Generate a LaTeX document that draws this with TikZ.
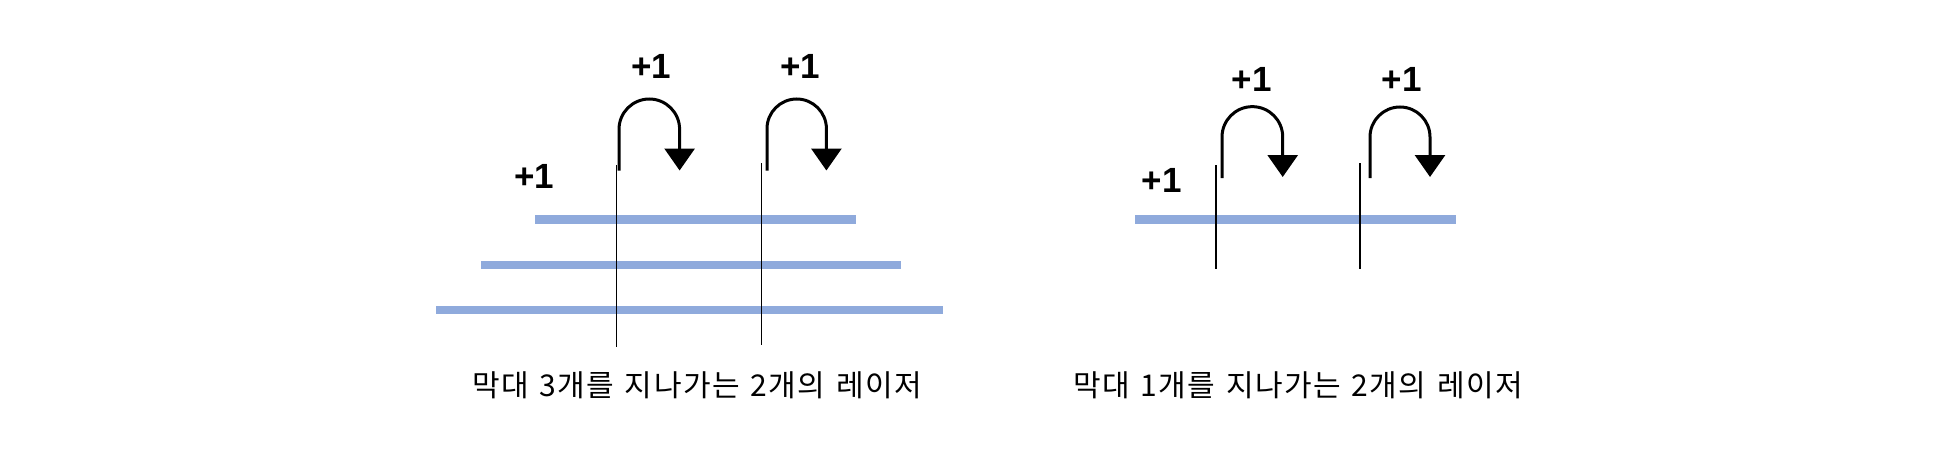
\documentclass[tikz,border=0pt]{standalone}
\usepackage{fontspec}
\setmainfont{Liberation Sans}
\newfontfamily\kr[WordSpace=1.3,LetterSpace=5]{Noto Sans CJK KR}
\usetikzlibrary{arrows.meta}
\definecolor{barblue}{RGB}{143,170,220}
\tikzset{
  bar/.style={draw=barblue, line width=8.7pt},
  laser/.style={draw=black, line width=1.1pt},
  hop/.style={draw=black, line width=3pt, -{Triangle[width=30pt,length=22pt]}},
  plus/.style={font=\fontsize{35}{40}\selectfont\bfseries, inner sep=0pt},
  caption/.style={font=\kr\fontsize{30}{36}\selectfont, inner sep=0pt}
}
\begin{document}
\begin{tikzpicture}[x=1pt,y=1pt]
\useasboundingbox (0,0) rectangle (1937,448);
% left group: bars
\coordinate (b1s) at (535,228.7);   \coordinate (b1e) at (856,228.7);
\coordinate (b2s) at (481.4,183);   \coordinate (b2e) at (901,183);
\coordinate (b3s) at (436,138);     \coordinate (b3e) at (942.5,138);
\draw[bar] (b1s) -- (b1e);
\draw[bar] (b2s) -- (b2e);
\draw[bar] (b3s) -- (b3e);
% left lasers
\coordinate (l1t) at (616.4,283); \coordinate (l1b) at (616.4,101);
\coordinate (l2t) at (761.8,285); \coordinate (l2b) at (761.8,103);
\draw[laser] (l1t) -- (l1b);
\draw[laser] (l2t) -- (l2b);
% left hops
\coordinate (h1s) at (619,277.3);
\draw[hop] (h1s) -- (619,318.7) arc[start angle=180,end angle=0,radius=30.3] -- (679.6,277.5);
\coordinate (h2s) at (767,277.3);
\draw[hop] (h2s) -- (767,319.3) arc[start angle=180,end angle=0,radius=29.7] -- (826.4,277.5);
% left labels
\node[plus] (p1) at (651.4,381.3) {+1};
\node[plus] (p2) at (800.4,381.3) {+1};
\node[plus] (p3) at (534.3,271.3) {+1};
\node[caption] (c1) at (697,63) {막대 3개를 지나가는 2개의 레이저};
% right group
\coordinate (r1s) at (1135,228.7); \coordinate (r1e) at (1456,228.7);
\draw[bar] (r1s) -- (r1e);
\coordinate (m1t) at (1216,283); \coordinate (m1b) at (1216,179);
\coordinate (m2t) at (1360,285); \coordinate (m2b) at (1360,179);
\draw[laser] (m1t) -- (m1b);
\draw[laser] (m2t) -- (m2b);
\coordinate (h3s) at (1222,270);
\draw[hop] (h3s) -- (1222,311) arc[start angle=180,end angle=0,radius=30.35] -- (1282.7,271);
\coordinate (h4s) at (1370,270);
\draw[hop] (h4s) -- (1370,311) arc[start angle=180,end angle=0,radius=30] -- (1430,271);
\node[plus] (p4) at (1251.7,368.7) {+1};
\node[plus] (p5) at (1401.7,369) {+1};
\node[plus] (p6) at (1161.7,268) {+1};
\node[caption] (c2) at (1298,63) {막대 1개를 지나가는 2개의 레이저};
\end{tikzpicture}
\end{document}
